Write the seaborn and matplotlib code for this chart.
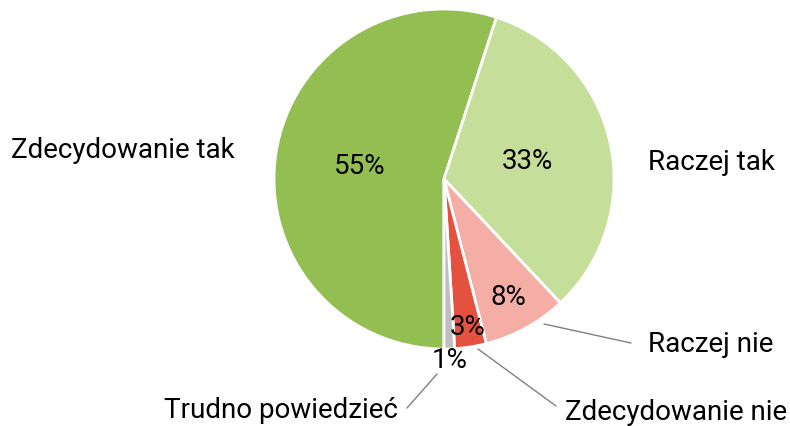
import numpy as np
import matplotlib
matplotlib.use("Agg")
import matplotlib.pyplot as plt
import seaborn as sns

categories = ["Zdecydowanie tak", "Raczej tak", "Raczej nie", "Zdecydowanie nie", "Trudno powiedzieć"]
values = [55, 33, 8, 3, 1]
pct_labels = ["55%", "33%", "8%", "3%", "1%"]
colors = ["#93BE52", "#C5DF9B", "#F4AEA6", "#E5513F", "#BFBFBF"]

sns.set_theme(style="white")
plt.rcParams["font.family"] = ["Roboto", "DejaVu Sans"]
plt.rcParams["text.color"] = "#000000"

fig = plt.figure(figsize=(7.9, 4.27), dpi=100)
W, H = 790, 427
cx, cy, R = 444, 180, 170
ax = fig.add_axes([(cx - R) / W, (H - cy - R) / H, 2 * R / W, 2 * R / H])

wedges, _ = ax.pie(values, colors=colors, startangle=-90, counterclock=False,
                   radius=1, wedgeprops=dict(edgecolor="white", linewidth=2))
ax.set_xlim(-1, 1)
ax.set_ylim(-1, 1)
ax.set_aspect("equal")
ax.axis("off")

# percentage labels at radial positions along each wedge's mid-angle
pct_r = [0.5, 0.5, 0.79, 0.88, 1.06]
fs = 20
for w, lab, r in zip(wedges, pct_labels, pct_r):
    ang = np.deg2rad((w.theta1 + w.theta2) / 2)
    ax.text(r * np.cos(ang), r * np.sin(ang), lab, ha="center", va="center",
            fontsize=fs, color="#000000")

def px(x, y):
    return ((x - cx) / R, (cy - y) / R)

# category labels
ax.text(*px(123, 150), categories[0], ha="center", va="center", fontsize=fs, clip_on=False)
ax.text(*px(711, 162), categories[1], ha="center", va="center", fontsize=fs, clip_on=False)

line_kw = dict(arrowstyle="-", color="#808080", lw=1, shrinkA=0, shrinkB=0)
ax.annotate(categories[2], xy=px(544, 325), xytext=px(711, 345), ha="center", va="center",
            fontsize=fs, annotation_clip=False)
ax.annotate("", xy=px(544, 325), xytext=px(631, 344), arrowprops=line_kw, annotation_clip=False)
ax.annotate(categories[3], xy=px(478, 350), xytext=px(676, 412), ha="center", va="center",
            fontsize=fs, annotation_clip=False)
ax.annotate("", xy=px(478, 350), xytext=px(556, 407), arrowprops=line_kw, annotation_clip=False)
ax.annotate(categories[4], xy=px(437, 375), xytext=px(281, 410), ha="center", va="center",
            fontsize=fs, annotation_clip=False)
ax.annotate("", xy=px(437, 375), xytext=px(407, 409), arrowprops=line_kw, annotation_clip=False)

fig.savefig("out.png", dpi=100)
